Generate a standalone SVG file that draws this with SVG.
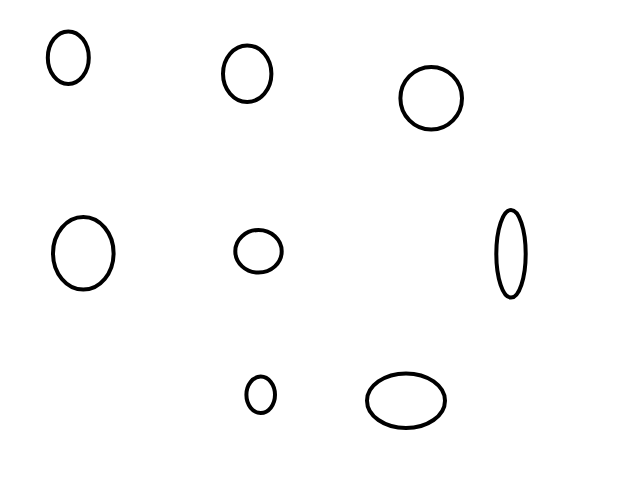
<svg xmlns="http://www.w3.org/2000/svg" width="640" height="480" viewBox="0 0 640 480">
<style>
.e{fill:none;stroke:#000;stroke-width:4}
</style>
<rect width="640" height="480" fill="#fff"/>
<g id="n1"><ellipse class="e" cx="68.3" cy="57.7" rx="20.5" ry="26.3"/></g>
<g id="n2"><ellipse class="e" cx="247.2" cy="73.7" rx="24.2" ry="28.3"/></g>
<g id="n3"><ellipse class="e" cx="431.2" cy="98.3" rx="30.8" ry="31.3"/></g>
<g id="n4"><ellipse class="e" cx="83.3" cy="253.3" rx="30.3" ry="36.3"/></g>
<g id="n5"><ellipse class="e" cx="258.5" cy="251.3" rx="23.2" ry="21.3"/></g>
<g id="n6"><ellipse class="e" cx="511" cy="253.8" rx="14.7" ry="43.8"/></g>
<g id="n7"><ellipse class="e" cx="260.7" cy="394.8" rx="14.3" ry="18.2"/></g>
<g id="n8"><ellipse class="e" cx="406" cy="400.7" rx="39" ry="27.3"/></g>
<g id="connectors"></g>
</svg>
